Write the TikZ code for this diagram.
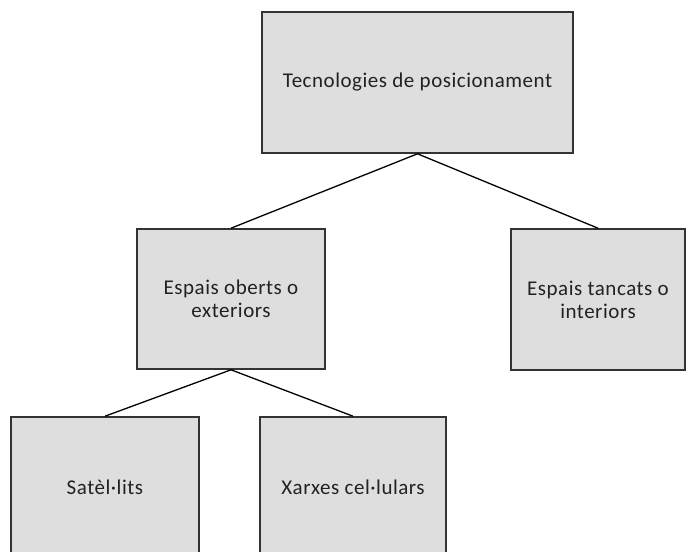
\documentclass[tikz,border=0pt]{standalone}
\usepackage{fontspec}
\setmainfont[LetterSpace=2.5]{Carlito}
\definecolor{boxgray}{HTML}{DEDEDE}
\definecolor{textgray}{HTML}{222222}

\begin{document}
\begin{tikzpicture}[x=1pt, y=-1pt]
          \useasboundingbox (0,0) rectangle (686,552);
          \clip (0,0) rectangle (686,552);
          \begin{scope}[every node/.style={rectangle, draw=black!80, line width=1.6pt, fill=boxgray,
                  text=textgray, font=\fontsize{21}{23}\selectfont, align=center, inner sep=0pt}]
          \node[minimum width=311pt, minimum height=141pt] (tec) at (417.5,82.5) {Tecnologies de posicionament};
          \node[minimum width=188pt, minimum height=140pt] (oberts) at (231,299) {Espais oberts o\\exteriors};
          \node[minimum width=174pt, minimum height=141pt] (tancats) at (598,299.5) {Espais tancats o\\interiors};
          \node[minimum width=188pt, minimum height=140pt] (sat) at (105,487) {Satèl·lits};
          \node[minimum width=186pt, minimum height=140pt] (xarxes) at (353,487) {Xarxes cel·lulars};
          \draw[line width=1.3pt] (oberts.north)--(tec.south)--(tancats.north);
          \draw[line width=1.3pt] (sat.north)--(oberts.south)--(xarxes.north);
          \end{scope}
\end{tikzpicture}
\end{document}
